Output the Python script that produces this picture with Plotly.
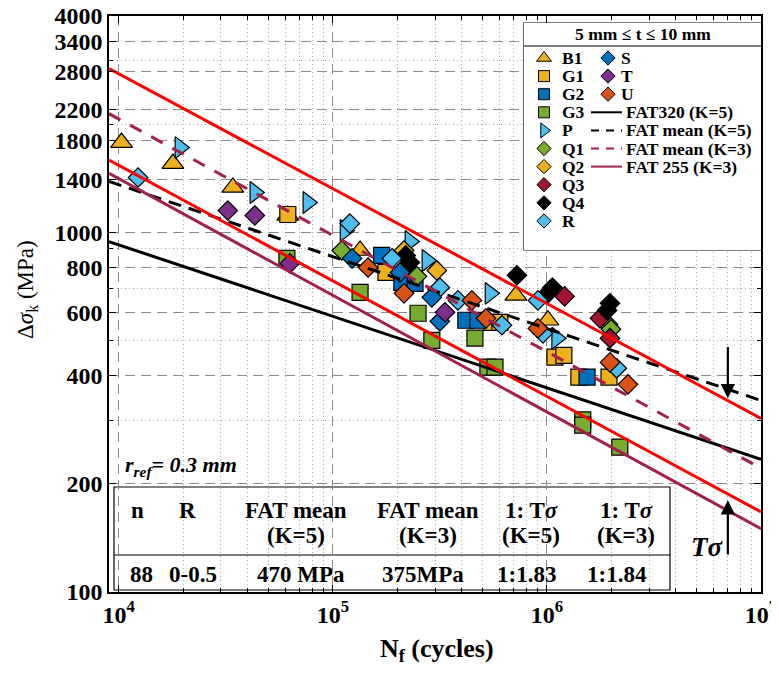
import numpy as np
import plotly.graph_objects as go

# ---------------- data ----------------
B1_N = [1.03e4, 1.79e4, 3.41e4, 6.16e4, 1.34e5, 7.16e5, 1.01e6]
B1_S = [1778, 1555, 1334, 1115, 891, 668, 570]
G1_N = [6.16e4, 1.77e5, 5.53e5, 6.03e5, 1.09e6, 1.20e6, 1.41e6, 1.95e6]
G1_S = [1122, 774, 562, 562, 450, 455, 396, 396]
G2_N = [1.69e5, 2.10e5, 2.42e5, 4.18e5, 4.76e5, 1.54e6]
G2_S = [863, 726, 722, 570, 570, 396]
G3_N = [6.10e4, 1.34e5, 2.50e5, 2.90e5, 4.61e5, 5.30e5, 5.72e5, 1.47e6, 1.47e6, 2.19e6]
G3_S = [847, 681, 596, 501, 508, 422, 422, 301, 291, 253]
P_N = [1.93e4, 4.32e4, 7.64e4, 1.14e5, 2.29e5, 2.75e5, 5.42e5, 1.11e6]
P_S = [1722, 1292, 1212, 1013, 944, 836, 677, 508]
Q1_N = [1.10e5, 2.47e5, 1.93e6, 1.99e6]
Q1_S = [891, 755, 555, 538]
Q2_N = [2.15e5, 3.06e5]
Q2_S = [891, 784]
Q3_N = [1.21e6, 1.77e6, 1.97e6]
Q3_S = [664, 577, 508]
Q4_N = [2.19e5, 2.29e5, 7.24e5, 1.06e6, 1.01e6, 1.97e6, 1.91e6]
Q4_S = [863, 825, 760, 703, 677, 635, 607]
R_N = [1.23e4, 1.20e5, 1.89e5, 3.16e5, 3.84e5, 6.16e5, 9.08e5, 9.58e5, 2.12e6]
R_S = [1422, 1059, 847, 703, 647, 552, 647, 524, 419]
S_N = [1.23e5, 2.06e5, 2.90e5, 3.16e5]
S_S = [847, 774, 660, 566]
T_N = [3.23e4, 4.32e4, 6.30e4, 3.34e5]
T_S = [1151, 1115, 820, 600]
U_N = [1.46e5, 2.15e5, 4.46e5, 5.19e5, 9.08e5, 1.97e6, 2.39e6]
U_S = [799, 677, 647, 577, 541, 435, 378]

# S-N lines (end points at N = 9e3 and 1e7)
line_N = [9.0e3, 1.0e7]
FAT320_K5_S = [943, 234]
FATmean_K5_S = [1386, 341]
FATmean_K3_S = [2140, 221]
FAT255_K3_S = [1460, 150]
band_upper_S = [2856, 304]
band_lower_S = [1590, 167]

# axis ticks
x_tickvals = [1e4, 1e5, 1e6, 1e7]
x_ticktext = ["10<sup>4</sup>", "10<sup>5</sup>", "10<sup>6</sup>", "10<sup>7</sup>"]
x_minor = [m * 10 ** e for e in (4, 5, 6) for m in range(2, 10)]
y_tickvals = [100, 200, 400, 600, 800, 1000, 1400, 1800, 2200, 2800, 3400, 4000]
y_ticktext = [str(v) for v in y_tickvals]
y_minor = [300, 500, 700, 900, 2000, 3000]

# table
table_head1 = ["n", "R", "FAT mean", "FAT mean", "1: T<i>σ</i>", "1: T<i>σ</i>"]
table_head2 = ["", "", "(K=5)", "(K=3)", "(K=5)", "(K=3)"]
table_vals = ["88", "0-0.5", "470 MPa", "375MPa", "1:1.83", "1:1.84"]

# ---------------- styling ----------------
# the page body adds an 8 px margin, so the figure is placed 8 px into the window
OFF = 8
W, H = 779 - OFF, 675 - 2 * OFF
X0, X1, Y0, Y1 = 109, 761, 16, 592          # plot area in window pixels
ML, MT = X0 - OFF, Y0 - OFF
MR = W - (X1 - OFF)
MB = H - (Y1 - OFF)
PW, PH = X1 - X0, Y1 - Y0
SERIF = "Liberation Serif"


def px(x):
    return (x - X0) / PW


def py(y):
    return (Y1 - y) / PH


series = [
    ("B1", B1_N, B1_S, "triangle-up", "#EDB120"),
    ("G1", G1_N, G1_S, "square", "#EDB120"),
    ("G2", G2_N, G2_S, "square", "#0072BD"),
    ("G3", G3_N, G3_S, "square", "#77AC30"),
    ("P", P_N, P_S, "triangle-right", "#4DBEEE"),
    ("Q1", Q1_N, Q1_S, "diamond", "#77AC30"),
    ("Q2", Q2_N, Q2_S, "diamond", "#EDB120"),
    ("Q3", Q3_N, Q3_S, "diamond", "#A2142F"),
    ("Q4", Q4_N, Q4_S, "diamond", "#000000"),
    ("R", R_N, R_S, "diamond", "#4DBEEE"),
    ("S", S_N, S_S, "diamond", "#0072BD"),
    ("T", T_N, T_S, "diamond", "#7E2F8E"),
    ("U", U_N, U_S, "diamond", "#D95319"),
]
data_size = {"triangle-up": 19, "triangle-right": 19, "square": 16, "diamond": 15}
leg_size = {"triangle-up": 13, "triangle-right": 13, "square": 11, "diamond": 11}

lines = [
    ("FAT320 (K=5)", FAT320_K5_S, "#000000", "solid", True),
    ("FAT mean (K=5)", FATmean_K5_S, "#000000", "13px,8px", True),
    ("FAT mean (K=3)", FATmean_K3_S, "#A2204A", "13px,11px", True),
    ("FAT 255 (K=3)", FAT255_K3_S, "#A2204A", "solid", True),
    ("upper band", band_upper_S, "#FF0000", "solid", False),
    ("lower band", band_lower_S, "#FF0000", "solid", False),
]

fig = go.Figure()

for name, n, s, sym, col in series:
    fig.add_trace(go.Scatter(
        x=n, y=s, mode="markers", name=name, showlegend=False,
        marker=dict(symbol=sym, size=data_size[sym], color=col,
                    line=dict(color="black", width=1.2))))

for name, s, col, dash, _ in lines:
    fig.add_trace(go.Scatter(
        x=line_N, y=s, mode="lines", name=name, showlegend=False,
        line=dict(color=col, width=3, dash=dash)))

# ---------------- custom two-column legend on an inset axis ----------------
LEG_L, LEG_R, LEG_T, LEG_B = 524, 761, 23, 250
row0, drow = 35, 18.1
LEG_FONT = dict(family=SERIF, size=17.5, color="black")
col1 = [s for s in series if s[0] in ("B1", "G1", "G2", "G3", "P", "Q1", "Q2", "Q3", "Q4", "R")]
col2m = [s for s in series if s[0] in ("S", "T", "U")]
col2l = [l for l in lines if l[4]]

annotations = []
for i, (name, n, s, sym, col) in enumerate(col1):
    yy = row0 + i * drow
    fig.add_trace(go.Scatter(x=[20], y=[yy], xaxis="x2", yaxis="y2", mode="markers",
                             showlegend=False, hoverinfo="skip",
                             marker=dict(symbol=sym, size=leg_size[sym], color=col,
                                         line=dict(color="black", width=1))))
    annotations.append(dict(x=36, y=yy, xref="x2", yref="y2", text="<b>%s</b>" % name,
                            showarrow=False, xanchor="left", yanchor="middle", font=LEG_FONT))
for i, (name, n, s, sym, col) in enumerate(col2m):
    yy = row0 + i * drow
    fig.add_trace(go.Scatter(x=[84], y=[yy], xaxis="x2", yaxis="y2", mode="markers",
                             showlegend=False, hoverinfo="skip",
                             marker=dict(symbol=sym, size=leg_size[sym], color=col,
                                         line=dict(color="black", width=1))))
    annotations.append(dict(x=95, y=yy, xref="x2", yref="y2", text="<b>%s</b>" % name,
                            showarrow=False, xanchor="left", yanchor="middle", font=LEG_FONT))
for j, (name, s, col, dash, _) in enumerate(col2l):
    yy = row0 + (j + 3) * drow
    ldash = dash if dash == "solid" else "8px,7px"
    fig.add_trace(go.Scatter(x=[67, 98], y=[yy, yy], xaxis="x2", yaxis="y2", mode="lines",
                             showlegend=False, hoverinfo="skip",
                             line=dict(color=col, width=2, dash=ldash)))
    annotations.append(dict(x=100, y=yy, xref="x2", yref="y2", text="<b>%s</b>" % name,
                            showarrow=False, xanchor="left", yanchor="middle", font=LEG_FONT))
annotations.append(dict(x=(LEG_R - LEG_L) / 2, y=11, xref="x2", yref="y2",
                        text="<b>5 mm ≤ t ≤ 10 mm</b>", showarrow=False,
                        xanchor="center", yanchor="middle",
                        font=dict(family=SERIF, size=17.5, color="black")))

# ---------------- table ----------------
TB_L, TB_R, TB_T, TB_B = 114, 670, 487, 590
head_x = [137, 187, 296, 428, 531, 626]
val_x = [141, 193, 301, 423, 526, 617]
TAB_FONT = dict(family=SERIF, size=23, color="black")
for i in range(len(table_head1)):
    annotations.append(dict(x=px(head_x[i]), y=py(510), xref="paper", yref="paper",
                            text="<b>%s</b>" % table_head1[i], showarrow=False,
                            xanchor="center", yanchor="middle", font=TAB_FONT))
    if table_head2[i]:
        annotations.append(dict(x=px(head_x[i]), y=py(535), xref="paper", yref="paper",
                                text="<b>%s</b>" % table_head2[i], showarrow=False,
                                xanchor="center", yanchor="middle", font=TAB_FONT))
    annotations.append(dict(x=px(val_x[i]), y=py(574), xref="paper", yref="paper",
                            text="<b>%s</b>" % table_vals[i], showarrow=False,
                            xanchor="center", yanchor="middle", font=TAB_FONT))

# ---------------- other text ----------------
annotations += [
    dict(x=px(27), y=py(290), xref="paper", yref="paper", textangle=-90,
         xanchor="center", yanchor="middle",
         text="Δ<i>σ</i><sub>k</sub> (MPa)", showarrow=False,
         font=dict(family=SERIF, size=23, color="black")),
    dict(x=px(437), y=py(650), xref="paper", yref="paper",
         xanchor="center", yanchor="middle",
         text="<b>N<sub>f</sub> (cycles)</b>", showarrow=False,
         font=dict(family=SERIF, size=26, color="black")),
    dict(x=px(123), y=py(466), xref="paper", yref="paper", xanchor="left", yanchor="middle",
         text="<b><i>r<sub>ref</sub>= 0.3 mm</i></b>", showarrow=False,
         font=dict(family=SERIF, size=22, color="black")),
    dict(x=px(707), y=py(547), xref="paper", yref="paper", xanchor="center", yanchor="middle",
         text="<b><i>Tσ</i></b>", showarrow=False,
         font=dict(family=SERIF, size=27, color="black")),
    dict(x=np.log10(7.0e6), y=np.log10(346), ax=np.log10(7.0e6), ay=np.log10(485),
         xref="x", yref="y", axref="x", ayref="y", text="", showarrow=True,
         arrowhead=2, arrowsize=1.3, arrowwidth=2.2, arrowcolor="black"),
    dict(x=np.log10(7.0e6), y=np.log10(180), ax=np.log10(7.0e6), ay=np.log10(126),
         xref="x", yref="y", axref="x", ayref="y", text="", showarrow=True,
         arrowhead=2, arrowsize=1.3, arrowwidth=2.2, arrowcolor="black"),
]

shapes = [
    dict(type="rect", xref="paper", yref="paper", x0=px(LEG_L), x1=px(LEG_R),
         y0=py(LEG_B), y1=py(LEG_T), fillcolor="white", line=dict(color="black", width=1.2),
         layer="between"),
    dict(type="line", xref="paper", yref="paper", x0=px(LEG_L), x1=px(LEG_R),
         y0=py(46), y1=py(46), line=dict(color="black", width=1.2), layer="above"),
    dict(type="rect", xref="paper", yref="paper", x0=px(TB_L), x1=px(TB_R),
         y0=py(TB_B), y1=py(TB_T), fillcolor="white", line=dict(color="black", width=1.2),
         layer="between"),
    dict(type="line", xref="paper", yref="paper", x0=px(TB_L), x1=px(TB_R),
         y0=py(555), y1=py(555), line=dict(color="black", width=1.2), layer="above"),
]

tickfont = dict(family=SERIF, size=24, color="black", weight="bold")
axis_common = dict(
    type="log", tickmode="array", tickfont=tickfont,
    showgrid=True, gridcolor="#8a8a8a", griddash="10px,6px", gridwidth=1,
    ticks="inside", ticklen=7, tickcolor="black", automargin=False,
    ticklabeloverflow="allow",
    showline=True, linecolor="black", linewidth=1.5, mirror="allticks", zeroline=False,
)
fig.update_layout(
    width=W, height=H, margin=dict(l=ML, r=MR, t=MT, b=MB, autoexpand=False),
    paper_bgcolor="white", plot_bgcolor="white", showlegend=False,
    annotations=annotations, shapes=shapes,
    xaxis=dict(range=[np.log10(9.0e3), 7], tickvals=x_tickvals, ticktext=x_ticktext,
               minor=dict(tickvals=x_minor, showgrid=True, gridcolor="#a8a8a8",
                          griddash="1px,3px", gridwidth=1, ticks="inside", ticklen=4,
                          tickcolor="black"),
               **axis_common),
    yaxis=dict(range=[2, np.log10(4000)], tickvals=y_tickvals, ticktext=y_ticktext,
               minor=dict(tickvals=y_minor, showgrid=True, gridcolor="#a8a8a8",
                          griddash="1px,3px", gridwidth=1, ticks="inside", ticklen=4,
                          tickcolor="black"),
               **axis_common),
    xaxis2=dict(domain=[px(LEG_L), px(LEG_R)], range=[0, LEG_R - LEG_L], anchor="y2",
                visible=False, fixedrange=True, automargin=False),
    yaxis2=dict(domain=[py(LEG_B), py(LEG_T)], range=[LEG_B - LEG_T, 0], anchor="x2",
                visible=False, fixedrange=True, automargin=False),
)

fig.write_html("out.html")
